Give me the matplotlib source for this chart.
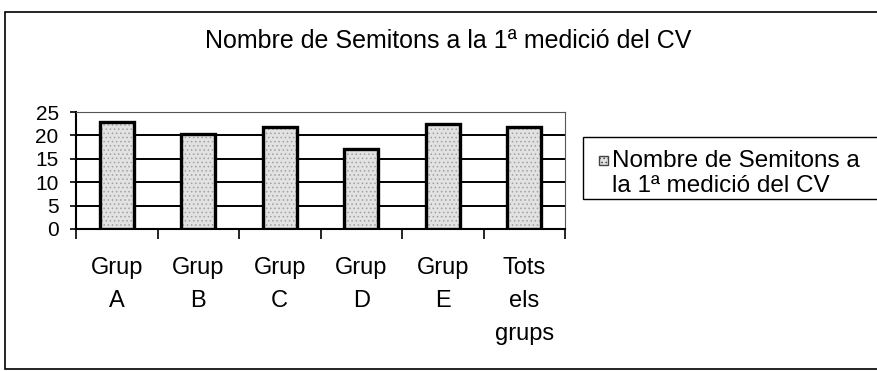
import matplotlib.pyplot as plt
import matplotlib.patches as mpatches
import numpy as np

# data
groups = ['Grup\nA', 'Grup\nB', 'Grup\nC', 'Grup\nD', 'Grup\nE', 'Tots\nels\ngrups']
semitons = [22.9, 20.4, 21.9, 17.1, 22.4, 21.7]
series_name = 'Nombre de Semitons a\nla 1ª medició del CV'
title = 'Nombre de Semitons a la 1ª medició del CV'

plt.rcParams['font.family'] = ['Liberation Sans', 'DejaVu Sans']
plt.rcParams['hatch.linewidth'] = 0.6

W, H = 878, 371
fig = plt.figure(figsize=(W / 100, H / 100), dpi=100)
ax = fig.add_axes([76 / W, 1 - 229 / H, 489 / W, 117 / H])

x = np.arange(len(groups))
# stippled fill, then thick black outline on top
ax.bar(x, semitons, width=0.42, color='#e2e2e2', hatch='....',
       edgecolor='#a0a0a0', linewidth=0, zorder=3)
ax.bar(x, semitons, width=0.42, fill=False, edgecolor='black',
       linewidth=2.4, zorder=4)

ax.set_xlim(-0.5, len(groups) - 0.5)
ax.set_ylim(0, 25)
ax.set_yticks([0, 5, 10, 15, 20, 25])
ax.yaxis.grid(True, color='black', linewidth=1.4, zorder=1)
ax.set_axisbelow(True)

# ticks at category boundaries, labels at centres
ax.set_xticks(np.arange(-0.5, len(groups)), minor=False)
ax.set_xticklabels([])
ax.set_xticks(x, minor=True)
ax.set_xticklabels(groups, minor=True, fontsize=17, linespacing=1.65,
                   va='top')
ax.tick_params(axis='x', which='major', direction='out', length=7,
               width=1.2, color='black')
ax.tick_params(axis='x', which='minor', length=0, pad=20)
ax.tick_params(axis='y', direction='out', length=4.5, width=1.2,
               labelsize=15, pad=8)

for side in ['top', 'right']:
    ax.spines[side].set_color('#555555')
    ax.spines[side].set_linewidth(0.8)
ax.spines['top'].set_linestyle((0, (4, 1)))
ax.spines['left'].set_linewidth(1.5)
ax.spines['bottom'].set_linewidth(1.5)

fig.text(205 / W, 1 - 48 / H, title, ha='left', va='baseline', fontsize=18)

# legend box, drawn by hand so it runs off the right edge like the original
fig.patches.append(mpatches.Rectangle((583 / W, 1 - 199 / H), 310 / W,
                                      62 / H, transform=fig.transFigure,
                                      fill=False, edgecolor='black',
                                      linewidth=1.0, clip_on=False))
fig.patches.append(mpatches.Rectangle((599 / W, 1 - 165 / H), 9 / W, 9 / H,
                                      transform=fig.transFigure,
                                      facecolor='#e2e2e2', hatch='....',
                                      edgecolor='#444444', linewidth=1))
for i, line in enumerate(series_name.split('\n')):
    fig.text(612 / W, 1 - (167 + 25 * i) / H, line, ha='left',
             va='baseline', fontsize=17.5)

# outer chart frame
fig.patches.append(mpatches.Rectangle((5 / W, 2 / H), 873 / W, 357 / H,
                                      transform=fig.transFigure,
                                      fill=False, edgecolor='black',
                                      linewidth=1.2))

fig.savefig('out.png', dpi=100)
